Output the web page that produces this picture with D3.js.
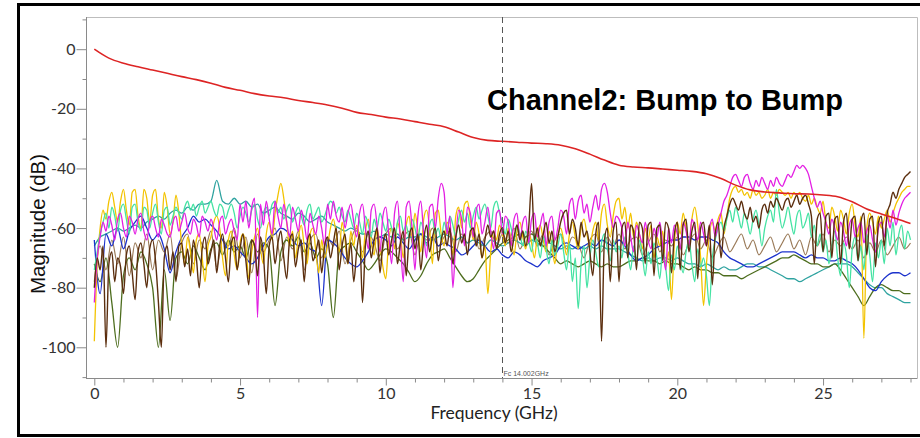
<!DOCTYPE html>
<html>
<head>
<meta charset="utf-8">
<script src="https://cdn.jsdelivr.net/npm/d3@7"></script>
<style>
  body { margin: 0; background: #fff; }
  svg { display: block; }
</style>
</head>
<body>
<svg id="chart" width="920" height="438"></svg>
<script>
// Sweep spacing of each trace (GHz between samples)
const fineStep = 0.1;
const coarseStep = 0.2;
const redStep = 0.5;

const xTickLabels = [0, 5, 10, 15, 20, 25];
const yTickLabels = [0, -20, -40, -60, -80, -100];
const markerFreq = 14.002;
const markerText = "Fc 14.002GHz";
const titleText = "Channel2: Bump to Bump";
const xTitle = "Frequency (GHz)";
const yTitle = "Magnitude (dB)";

// Insertion loss, 0.5 GHz spacing
const red = [
  0, -3.0, -4.7, -5.9, -7.0, -8.1, -9.2, -10.2, -11.4, -12.8,
  -13.8, -14.9, -15.7, -16.3, -17.2, -17.9, -18.7, -19.8, -21.2, -21.9,
  -22.8, -23.4, -24.3, -25.2, -26.0, -27.8, -29.6, -30.6, -30.9, -31.2,
  -31.5, -31.7, -32.2, -33.4, -35.2, -37.2, -38.9, -39.5, -39.8, -40.2,
  -40.6, -41.0, -41.8, -43.4, -45.6, -47.2, -47.9, -48.2, -48.5, -48.6,
  -48.9, -49.5, -51.2, -53.6, -55.3, -56.8, -58.5
];

// Crosstalk traces, 0.1 GHz spacing (one row per GHz)
const yellow = [
  -98, -72, -60, -54, -57, -51, -48, -53, -58, -51,
  -47, -54, -59, -48, -47, -56, -60, -47, -50, -58,
  -49, -47, -57, -60, -48, -53, -62, -58, -49, -55,
  -66, -72, -63, -68, -75, -64, -62, -70, -78, -66,
  -63, -58, -56, -60, -70, -76, -64, -61, -69, -74,
  -65, -62, -66, -77, -68, -63, -60, -67, -72, -62,
  -58, -64, -55, -49, -45, -50, -58, -66, -61, -70,
  -63, -59, -66, -72, -62, -60, -68, -75, -64, -70,
  -66, -60, -57, -62, -68, -58, -64, -72, -61, -66,
  -59, -63, -70, -61, -57, -65, -69, -60, -66, -73,
  -77, -64, -60, -67, -58, -62, -70, -59, -56, -63,
  -55, -61, -68, -57, -54, -60, -72, -55, -54, -62,
  -66, -58, -61, -69, -56, -53, -60, -52, -51, -57,
  -64, -58, -62, -70, -66, -82, -68, -61, -64, -59,
  -62, -66, -60, -64, -69, -61, -58, -63, -67, -61,
  -65, -70, -62, -59, -64, -68, -61, -66, -72, -63,
  -60, -64, -69, -62, -58, -63, -67, -60, -57, -62,
  -66, -61, -58, -64, -55, -52, -59, -63, -56, -51,
  -50, -57, -53, -60, -55, -63, -58, -62, -67, -60,
  -64, -59, -70, -63, -66, -61, -73, -68, -84, -65,
  -58, -62, -55, -60, -66, -57, -53, -59, -70, -86,
  -72, -62, -58, -61, -57, -55, -62, -56, -50, -47,
  -46, -48, -47, -49, -48, -50, -47, -49, -48, -50,
  -49, -47, -50, -48, -49, -47, -48, -49, -48, -50,
  -48, -49, -48, -50, -51, -49, -52, -50, -53, -55,
  -51, -58, -60, -53, -56, -61, -54, -57, -62, -55,
  -52, -59, -63, -56, -97, -60, -55, -58, -62, -56,
  -60, -57, -54, -58, -55, -52, -50, -48, -47, -46,
  -46
];

const aqua = [
  -74, -68, -62, -58, -55, -60, -53, -56, -61, -54,
  -52, -57, -62, -53, -52, -58, -61, -53, -54, -60,
  -55, -52, -58, -62, -54, -53, -59, -56, -53, -55,
  -57, -53, -51, -54, -52, -56, -53, -51, -55, -53,
  -51, -54, -56, -52, -53, -57, -54, -52, -55, -60,
  -56, -53, -55, -58, -54, -52, -57, -60, -55, -53,
  -56, -52, -51, -55, -53, -57, -54, -52, -58, -55,
  -53, -56, -59, -54, -52, -57, -55, -53, -58, -56,
  -53, -51, -52, -55, -53, -56, -58, -54, -57, -60,
  -55, -58, -62, -56, -59, -63, -57, -60, -55, -58,
  -61, -57, -60, -64, -58, -56, -61, -59, -63, -57,
  -60, -64, -58, -61, -66, -59, -57, -62, -60, -64,
  -58, -61, -56, -59, -63, -57, -54, -58, -55, -60,
  -56, -53, -57, -54, -52, -56, -60, -53, -51, -55,
  -58, -62, -57, -60, -64, -59, -62, -66, -61, -64,
  -68, -62, -65, -70, -63, -67, -72, -64, -69, -66,
  -62, -68, -74, -65, -78, -70, -87, -72, -66, -80,
  -70, -64, -68, -73, -65, -62, -67, -71, -64, -68,
  -66, -70, -63, -68, -74, -66, -71, -64, -69, -76,
  -68, -72, -65, -70, -77, -67, -73, -81, -69, -74,
  -66, -71, -75, -68, -64, -72, -78, -67, -73, -70,
  -76, -86, -70, -64, -60, -58, -61, -57, -54, -58,
  -53, -56, -60, -55, -58, -62, -57, -54, -59, -66,
  -60, -56, -54, -58, -47, -55, -60, -57, -53, -58,
  -62, -56, -54, -60, -58, -55, -63, -59, -66, -62,
  -68, -64, -72, -66, -61, -70, -76, -65, -69, -80,
  -67, -63, -71, -66, -74, -62, -69, -78, -65, -70,
  -64, -72, -60, -66, -58, -69, -62, -59, -67, -61,
  -64
];

const magenta = [
  -85, -70, -63, -58, -61, -56, -59, -64, -57, -55,
  -60, -63, -56, -58, -62, -57, -55, -61, -64, -58,
  -56, -60, -63, -57, -59, -62, -63, -58, -56, -61,
  -58, -55, -60, -62, -57, -59, -63, -56, -58, -61,
  -57, -60, -64, -58, -56, -62, -59, -57, -61, -64,
  -52, -58, -51, -60, -53, -50, -90, -52, -59, -51,
  -57, -62, -51, -56, -60, -52, -58, -63, -53, -57,
  -61, -54, -58, -64, -55, -59, -62, -56, -60, -66,
  -52, -57, -51, -56, -58, -53, -60, -55, -52, -58,
  -63, -55, -52, -60, -67, -54, -52, -59, -68, -56,
  -53, -62, -72, -55, -51, -64, -78, -53, -51, -60,
  -74, -56, -51, -62, -70, -53, -52, -60, -50, -45,
  -48, -62, -56, -80, -64, -54, -57, -66, -53, -55,
  -63, -54, -52, -62, -58, -53, -61, -67, -55, -54,
  -62, -56, -58, -66, -57, -55, -64, -58, -56, -65,
  -57, -55, -63, -59, -55, -66, -58, -56, -64, -60,
  -54, -56, -62, -52, -50, -57, -51, -49, -55, -52,
  -58, -53, -49, -54, -47, -45, -48, -55, -60, -56,
  -57, -60, -66, -58, -63, -68, -59, -62, -65, -58,
  -64, -67, -60, -63, -58, -66, -74, -60, -65, -59,
  -62, -67, -58, -61, -66, -57, -60, -64, -58, -62,
  -66, -60, -57, -63, -59, -55, -51, -49, -46, -43,
  -42, -44, -46, -43, -42, -45, -47, -44, -46, -43,
  -45, -47, -44, -46, -43, -45, -46, -44, -42, -43,
  -41, -39, -40, -39, -40, -42, -46, -50, -53, -51,
  -55, -58, -62, -57, -60, -64, -58, -61, -66, -59,
  -57, -63, -60, -58, -65, -61, -59, -64, -68, -60,
  -58, -63, -56, -60, -54, -59, -55, -52, -50, -49,
  -48
];

const brown = [
  -80, -70, -74, -66, -100, -72, -68, -78, -70, -73,
  -82, -69, -66, -75, -84, -68, -65, -72, -80, -67,
  -64, -71, -85, -100, -70, -66, -74, -68, -78, -66,
  -65, -73, -67, -76, -64, -70, -80, -67, -63, -72,
  -68, -64, -75, -66, -62, -70, -78, -65, -63, -74,
  -67, -62, -71, -79, -64, -66, -76, -63, -69, -82,
  -66, -63, -72, -65, -61, -70, -77, -64, -62, -73,
  -67, -64, -78, -65, -62, -71, -68, -64, -75, -66,
  -63, -70, -65, -60, -74, -66, -62, -72, -65, -78,
  -68, -62, -85, -66, -61, -70, -64, -60, -75, -65,
  -62, -69, -64, -60, -72, -65, -61, -76, -63, -60,
  -67, -62, -74, -64, -59, -68, -63, -60, -71, -64,
  -61, -66, -60, -72, -63, -59, -65, -62, -69, -61,
  -60, -66, -62, -70, -64, -59, -63, -61, -67, -62,
  -60, -65, -61, -68, -63, -59, -64, -61, -66, -60,
  -45, -64, -60, -66, -62, -58, -65, -61, -68, -63,
  -58, -55, -54, -62, -57, -60, -66, -58, -63, -61,
  -68, -76, -62, -58, -98, -64, -60, -78, -61, -58,
  -78, -60, -58, -70, -59, -61, -74, -58, -60, -72,
  -59, -58, -76, -60, -59, -71, -58, -60, -75, -62,
  -58, -74, -59, -57, -68, -61, -58, -77, -60, -58,
  -66, -59, -79, -62, -58, -70, -60, -56, -52, -50,
  -52, -54, -51, -55, -57, -53, -58, -56, -60, -54,
  -52, -55, -51, -53, -50, -52, -54, -51, -50, -53,
  -51, -49, -52, -50, -49, -52, -56, -72, -57, -55,
  -68, -56, -55, -70, -57, -56, -72, -58, -55, -67,
  -57, -56, -71, -58, -55, -69, -57, -56, -73, -58,
  -56, -66, -55, -52, -48, -50, -47, -45, -43, -42,
  -41
];

// Slower traces, 0.2 GHz spacing (one row per GHz)
const tan = [
  -78, -66, -74, -64, -72,
  -63, -76, -65, -70, -62,
  -74, -64, -68, -62, -77,
  -65, -62, -72, -64, -67,
  -61, -73, -64, -66, -60,
  -70, -63, -75, -62, -68,
  -64, -60, -71, -63, -67,
  -61, -74, -64, -62, -70,
  -63, -66, -61, -72, -64,
  -60, -68, -62, -65, -71,
  -62, -60, -67, -63, -61,
  -69, -62, -64, -60, -66,
  -63, -61, -68, -62, -65,
  -60, -67, -63, -61, -66,
  -62, -65, -60, -67, -63,
  -61, -66, -62, -69, -64,
  -62, -67, -63, -65, -70,
  -64, -62, -68, -63, -66,
  -62, -67, -64, -63, -69,
  -65, -62, -68, -64, -66,
  -63, -69, -65, -62, -67,
  -64, -70, -66, -63, -68,
  -65, -62, -67, -64, -69,
  -66, -63, -68, -65, -62,
  -67, -64, -69, -63, -66,
  -62, -68, -64, -66, -63,
  -67, -64, -70, -65, -68,
  -64, -69, -66, -63, -67,
  -65
];

const blue = [
  -64, -82, -62, -66, -60,
  -67, -61, -58, -56, -60,
  -64, -62, -67, -75, -68,
  -63, -60, -56, -58, -57,
  -59, -61, -64, -67, -66,
  -68, -70, -72, -70, -66,
  -63, -62, -60, -61, -64,
  -66, -65, -67, -68, -86,
  -64, -65, -67, -70, -72,
  -73, -71, -68, -64, -63,
  -64, -66, -63, -65, -67,
  -64, -62, -65, -63, -66,
  -65, -66, -67, -69, -68,
  -66, -64, -66, -68, -67,
  -69, -70, -68, -69, -71,
  -72, -73, -71, -70, -69,
  -66, -65, -66, -67, -66,
  -65, -66, -64, -65, -66,
  -64, -66, -69, -71, -70,
  -69, -67, -66, -65, -64,
  -64, -63, -63, -64, -63,
  -63, -64, -65, -68, -70,
  -71, -72, -73, -73, -72,
  -71, -70, -69, -68, -68,
  -68, -69, -70, -69, -70,
  -70, -71, -71, -70, -71,
  -72, -74, -77, -80, -81,
  -78, -76, -75, -75, -76,
  -75
];

const teal = [
  -66, -63, -62, -61, -60,
  -61, -60, -59, -60, -58,
  -57, -56, -57, -55, -54,
  -55, -53, -54, -52, -52,
  -51, -44, -51, -52, -50,
  -52, -51, -53, -52, -55,
  -54, -53, -55, -56, -57,
  -55, -56, -58, -57, -56,
  -58, -59, -60, -61, -60,
  -61, -62, -62, -61, -63,
  -62, -63, -62, -64, -63,
  -63, -62, -63, -64, -63,
  -62, -63, -64, -63, -65,
  -64, -65, -66, -64, -65,
  -66, -65, -64, -65, -66,
  -64, -65, -66, -65, -66,
  -67, -66, -67, -66, -67,
  -66, -67, -66, -67, -67,
  -67, -68, -69, -70, -71,
  -70, -71, -70, -70, -71,
  -70, -71, -72, -72, -73,
  -72, -73, -74, -73, -74,
  -74, -73, -72, -72, -73,
  -73, -74, -75, -76, -77,
  -77, -78, -77, -76, -75,
  -74, -73, -72, -72, -72,
  -73, -75, -77, -79, -80,
  -80, -82, -83, -84, -85,
  -85
];

const olive = [
  -72, -78, -70, -85, -100,
  -76, -70, -74, -68, -72,
  -80, -100, -74, -91, -70,
  -68, -72, -66, -70, -74,
  -67, -65, -69, -64, -68,
  -66, -70, -64, -68, -65,
  -67, -86, -68, -64, -66,
  -63, -68, -65, -70, -67,
  -72, -90, -68, -66, -65,
  -68, -71, -74, -72, -69,
  -67, -68, -70, -72, -75,
  -78, -76, -72, -69, -68,
  -67, -70, -73, -76, -78,
  -77, -74, -71, -69, -67,
  -65, -64, -63, -62, -63,
  -62, -64, -66, -68, -70,
  -72, -71, -72, -73, -72,
  -71, -72, -73, -72, -73,
  -73, -72, -71, -71, -70,
  -71, -71, -72, -71, -72,
  -72, -73, -74, -73, -74,
  -74, -75, -75, -76, -76,
  -76, -77, -76, -75, -74,
  -73, -72, -71, -70, -70,
  -69, -70, -71, -72, -72,
  -73, -73, -72, -74, -77,
  -80, -83, -86, -83, -80,
  -79, -80, -81, -81, -82,
  -82
];

// Traces in drawing order (later ones sit on top)
const traces = [
  { values: tan,     step: coarseStep, color: "#9a7a58", width: 1.2 },
  { values: teal,    step: coarseStep, color: "#2fa3a0", width: 1.3 },
  { values: olive,   step: coarseStep, color: "#4d6d1e", width: 1.3 },
  { values: blue,    step: coarseStep, color: "#1c32cc", width: 1.3 },
  { values: yellow,  step: fineStep,   color: "#f3c300", width: 1.3 },
  { values: aqua,    step: fineStep,   color: "#45e3a3", width: 1.3 },
  { values: magenta, step: fineStep,   color: "#e31ee3", width: 1.3 },
  { values: brown,   step: fineStep,   color: "#5b2e0e", width: 1.4 },
  { values: red,     step: redStep,    color: "#dd2424", width: 1.6 }
];

const svg = d3.select("#chart");

// Outer frame
svg.append("rect")
  .attr("x", 18.5).attr("y", 4.5)
  .attr("width", 912).attr("height", 431)
  .attr("fill", "#fff")
  .attr("stroke", "#000")
  .attr("stroke-width", 3);

const plot = { left: 86, right: 917.5, top: 17, bottom: 378 };

const x = d3.scaleLinear().domain([-0.285, 28.24]).range([plot.left, plot.right]);
const y = d3.scaleLinear().domain([-110.3, 10.8]).range([plot.bottom, plot.top]);

// Light frame on top and right of the plot area
svg.append("path")
  .attr("d", `M${plot.left},${plot.top + 0.5}H${plot.right}V${plot.bottom}`)
  .attr("fill", "none")
  .attr("stroke", "#bdbdbd")
  .attr("stroke-width", 1);

// Clip traces to the plot area
svg.append("clipPath").attr("id", "plot-clip")
  .append("rect")
  .attr("x", plot.left).attr("y", plot.top)
  .attr("width", plot.right - plot.left).attr("height", plot.bottom - plot.top);

const line = d3.line()
  .x(d => x(d[0]))
  .y(d => y(d[1]))
  .curve(d3.curveMonotoneX);

const traceLayer = svg.append("g").attr("clip-path", "url(#plot-clip)");
traces.forEach(t => {
  const pts = t.values.map((v, i) => [i * t.step, v]);
  traceLayer.append("path")
    .datum(pts)
    .attr("d", line)
    .attr("fill", "none")
    .attr("stroke", t.color)
    .attr("stroke-width", t.width)
    .attr("stroke-linejoin", "round");
});

// Marker at the centre frequency
const mx = Math.round(x(markerFreq)) + 0.5;
svg.append("line")
  .attr("x1", mx).attr("x2", mx)
  .attr("y1", plot.top).attr("y2", plot.bottom)
  .attr("stroke", "#555")
  .attr("stroke-width", 1)
  .attr("stroke-dasharray", "6,4");
svg.append("text")
  .attr("x", mx + 1).attr("y", plot.bottom - 2)
  .attr("font-family", "Liberation Sans, Arial, sans-serif")
  .attr("font-size", 7)
  .attr("fill", "#555")
  .text(markerText);

const axisColor = "#8a8a8a";
const labelFont = "Lato, Open Sans, sans-serif";
const plainNumber = d => String(d);

// Y axis: minor ticks every 10 dB, labelled ticks every 20 dB
const yMinor = d3.range(-110, 11, 10).filter(v => !yTickLabels.includes(v));
const yAxisG = svg.append("g").attr("transform", `translate(${plot.left + 0.5},0)`);
yAxisG.call(d3.axisLeft(y).tickValues(yMinor).tickSize(4).tickFormat("").tickSizeOuter(0));
yAxisG.call(g => g.select(".domain").remove());
const yMajorG = svg.append("g").attr("transform", `translate(${plot.left + 0.5},0)`);
yMajorG.call(d3.axisLeft(y).tickValues(yTickLabels).tickFormat(plainNumber)
  .tickSize(10).tickPadding(1).tickSizeOuter(0));
yMajorG.select(".domain").attr("d", `M0,${plot.top}V${plot.bottom}`);
[yAxisG, yMajorG].forEach(g => {
  g.selectAll("line").attr("stroke", axisColor);
  g.selectAll(".domain").attr("stroke", axisColor);
});
yMajorG.selectAll("text")
  .attr("font-family", labelFont)
  .attr("font-size", 16)
  .attr("fill", "#333");

// X axis: minor ticks every 1 GHz, labelled ticks every 5 GHz
const xMinor = d3.range(0, 29, 1).filter(v => !xTickLabels.includes(v));
const xAxisG = svg.append("g").attr("transform", `translate(0,${plot.bottom + 0.5})`);
xAxisG.call(d3.axisBottom(x).tickValues(xMinor).tickSize(4).tickFormat("").tickSizeOuter(0));
xAxisG.call(g => g.select(".domain").remove());
const xMajorG = svg.append("g").attr("transform", `translate(0,${plot.bottom + 0.5})`);
xMajorG.call(d3.axisBottom(x).tickValues(xTickLabels).tickFormat(plainNumber)
  .tickSize(7).tickPadding(2).tickSizeOuter(0));
xMajorG.select(".domain").attr("d", `M${plot.left},0H${plot.right}`);
[xAxisG, xMajorG].forEach(g => {
  g.selectAll("line").attr("stroke", axisColor);
  g.selectAll(".domain").attr("stroke", axisColor);
});
xMajorG.selectAll("text")
  .attr("font-family", labelFont)
  .attr("font-size", 16)
  .attr("fill", "#333");

// Axis titles
svg.append("text")
  .attr("x", 494).attr("y", 419)
  .attr("text-anchor", "middle")
  .attr("font-family", labelFont)
  .attr("font-size", 17.5)
  .attr("fill", "#222")
  .text(xTitle);

svg.append("text")
  .attr("transform", "translate(45,224) rotate(-90)")
  .attr("text-anchor", "middle")
  .attr("font-family", "Liberation Sans, Arial, sans-serif")
  .attr("font-size", 20.5)
  .attr("fill", "#111")
  .text(yTitle);

// Chart title inside the plot
svg.append("text")
  .attr("x", 487).attr("y", 110)
  .attr("font-family", "Liberation Sans, Arial, sans-serif")
  .attr("font-weight", "bold")
  .attr("font-size", 29)
  .attr("fill", "#000")
  .text(titleText);
</script>
</body>
</html>
